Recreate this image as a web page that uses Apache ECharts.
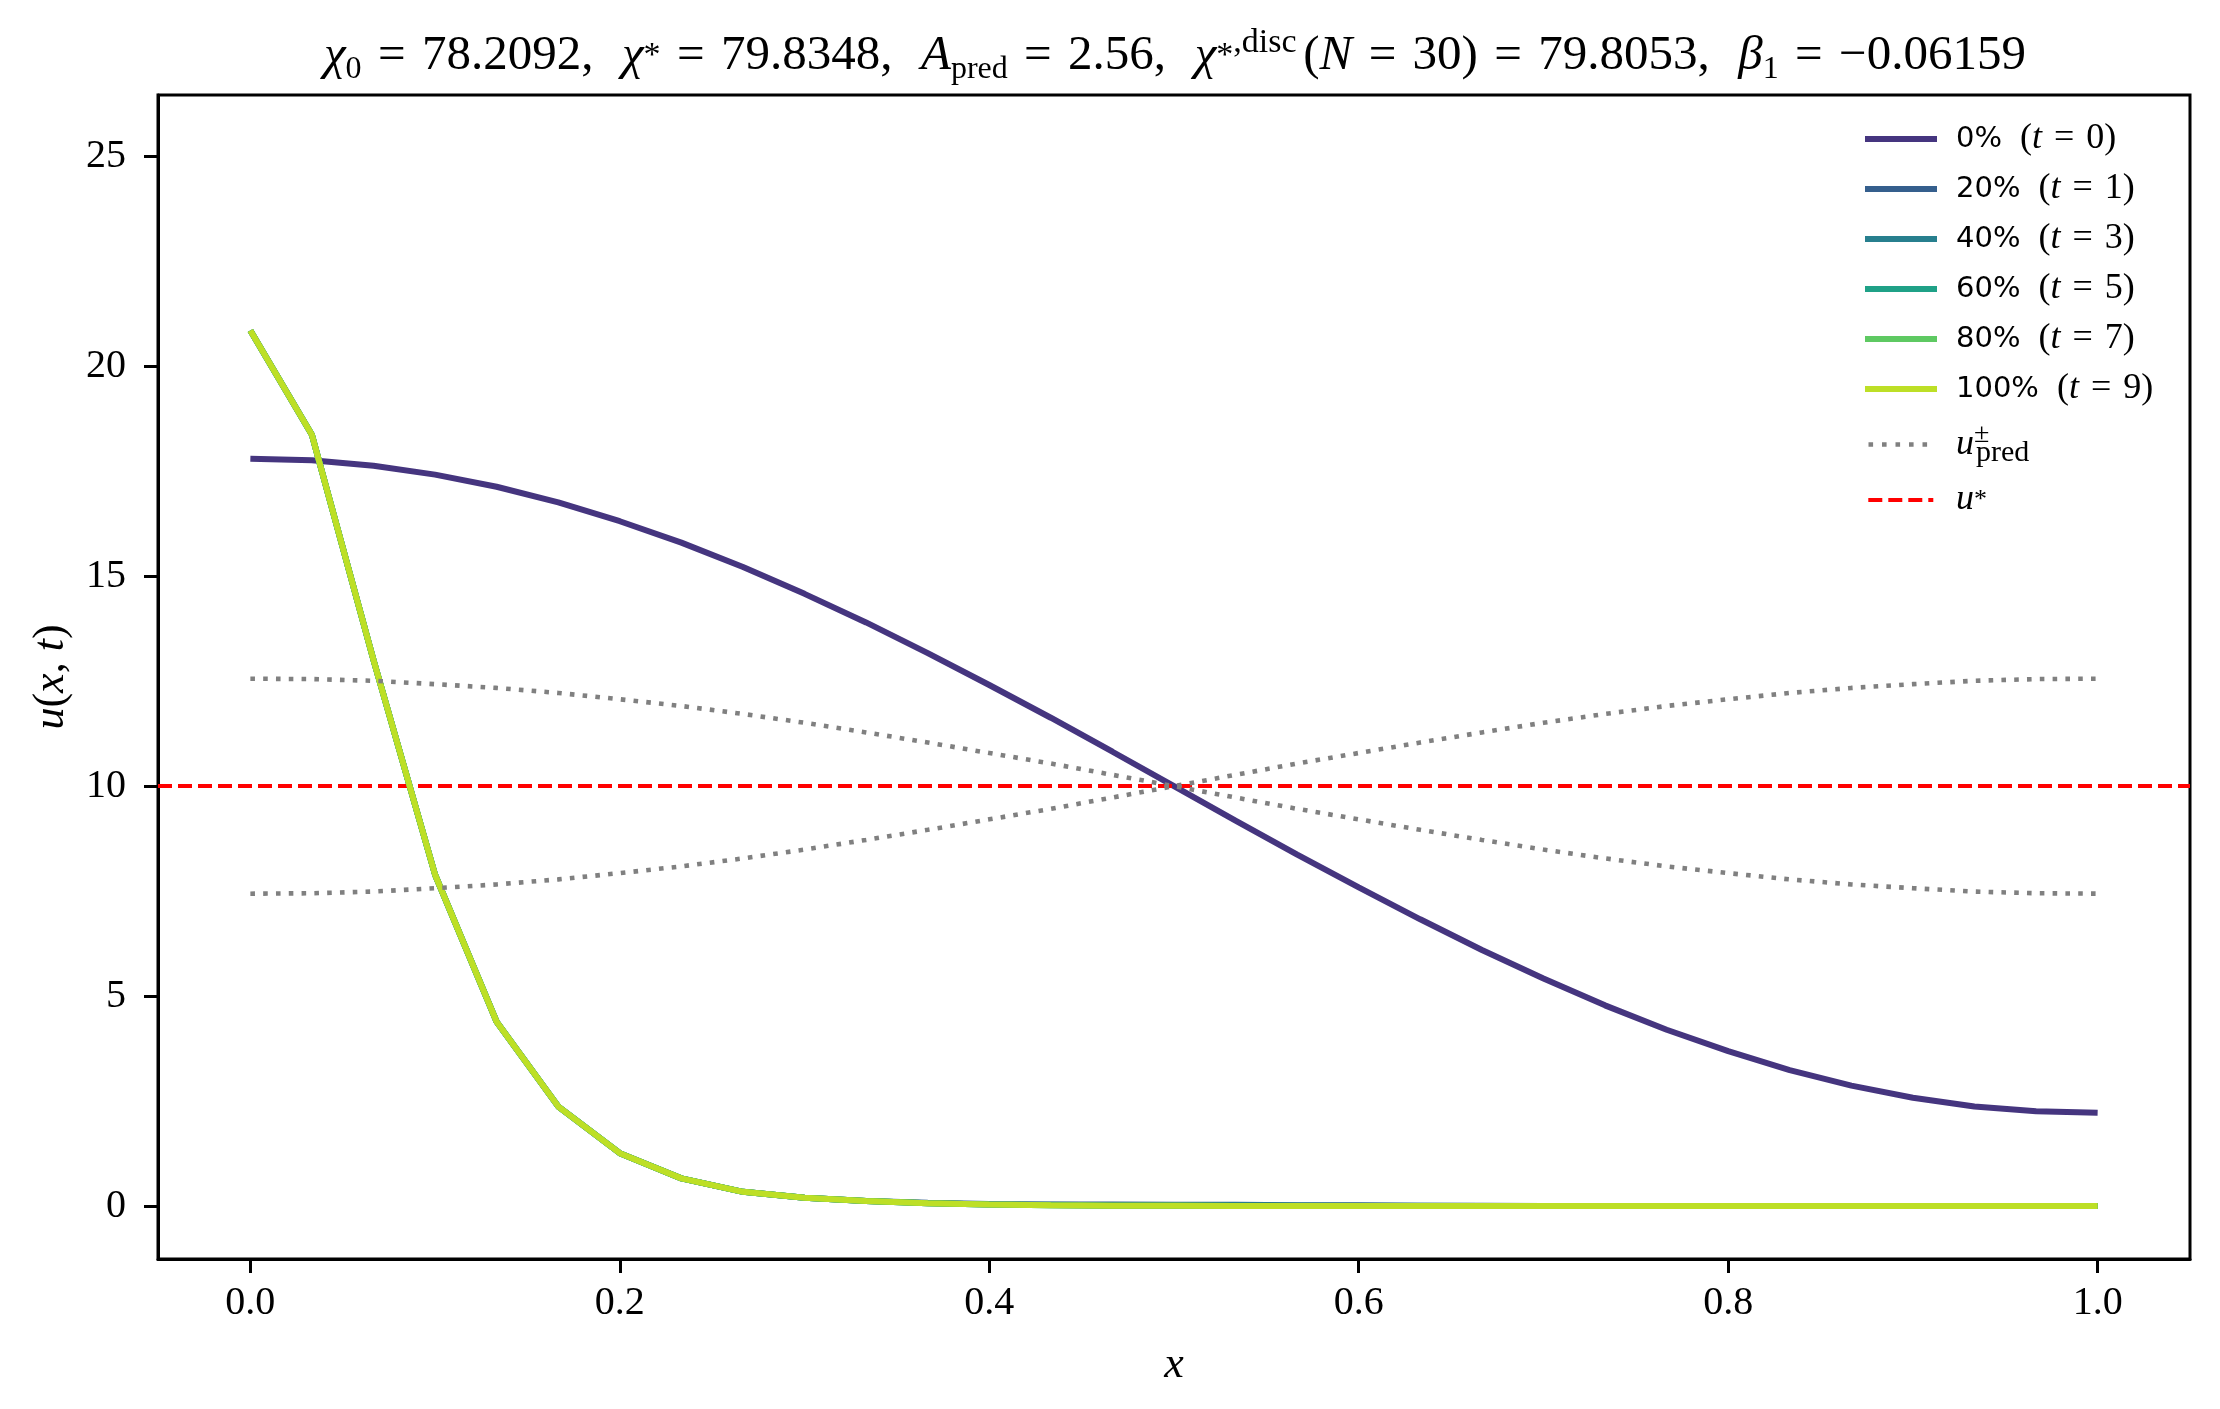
<!DOCTYPE html>
<html>
<head>
<meta charset="utf-8">
<script src="https://cdn.jsdelivr.net/npm/echarts@6/dist/echarts.min.js"></script>
<style>
  html, body { margin: 0; padding: 0; background: #fff; }
  #chart { width: 2220px; height: 1409px; }
</style>
</head>
<body>
<div id="chart"></div>
<script>
// grid x = k/30, N = 30
var xs = [0, 0.0333, 0.0667, 0.1, 0.1333, 0.1667, 0.2, 0.2333, 0.2667, 0.3, 0.3333,
          0.3667, 0.4, 0.4333, 0.4667, 0.5, 0.5333, 0.5667, 0.6, 0.6333, 0.6667,
          0.7, 0.7333, 0.7667, 0.8, 0.8333, 0.8667, 0.9, 0.9333, 0.9667, 1.0];

var u_t0 = [17.80, 17.76, 17.63, 17.42, 17.13, 16.76, 16.31, 15.80, 15.22, 14.58, 13.90,
            13.17, 12.41, 11.63, 10.82, 10.00, 9.18, 8.37, 7.59, 6.83, 6.10,
            5.42, 4.78, 4.20, 3.69, 3.24, 2.87, 2.58, 2.37, 2.26, 2.22];
var u_t1 = [20.85, 18.37, 13.00, 7.89, 4.39, 2.37, 1.26, 0.66, 0.34, 0.20, 0.12,
            0.08, 0.05, 0.04, 0.04, 0.03, 0.03, 0.02, 0.02, 0.01, 0.01,
            0, 0, 0, 0, 0, 0, 0, 0, 0, 0];
var u_t3 = [20.85, 18.37, 13.00, 7.89, 4.39, 2.37, 1.26, 0.66, 0.34, 0.20, 0.12,
            0.07, 0.04, 0.03, 0.02, 0.02, 0.02, 0.01, 0.01, 0.01, 0,
            0, 0, 0, 0, 0, 0, 0, 0, 0, 0];
var u_t5 = [20.85, 18.37, 13.00, 7.89, 4.39, 2.37, 1.26, 0.66, 0.34, 0.20, 0.12,
            0.07, 0.04, 0.02, 0.01, 0.01, 0.01, 0.01, 0, 0, 0,
            0, 0, 0, 0, 0, 0, 0, 0, 0, 0];
var u_t7 = [20.85, 18.37, 13.00, 7.89, 4.39, 2.37, 1.26, 0.66, 0.34, 0.20, 0.12,
            0.07, 0.04, 0.02, 0.01, 0.01, 0, 0, 0, 0, 0,
            0, 0, 0, 0, 0, 0, 0, 0, 0, 0];
var u_t9 = [20.85, 18.37, 13.00, 7.89, 4.39, 2.37, 1.26, 0.66, 0.34, 0.20, 0.12,
            0.07, 0.04, 0.02, 0.01, 0.01, 0, 0, 0, 0, 0,
            0, 0, 0, 0, 0, 0, 0, 0, 0, 0];

var uPredPlus = [12.56, 12.55, 12.51, 12.43, 12.34, 12.22, 12.07, 11.91, 11.72, 11.51, 11.28,
                 11.04, 10.79, 10.54, 10.27, 10.00, 9.73, 9.46, 9.21, 8.96, 8.72,
                 8.49, 8.28, 8.09, 7.93, 7.78, 7.66, 7.57, 7.49, 7.45, 7.44];
var uPredMinus = [7.44, 7.45, 7.49, 7.57, 7.66, 7.78, 7.93, 8.09, 8.28, 8.49, 8.72,
                  8.96, 9.21, 9.46, 9.73, 10.00, 10.27, 10.54, 10.79, 11.04, 11.28,
                  11.51, 11.72, 11.91, 12.07, 12.22, 12.34, 12.43, 12.51, 12.55, 12.56];
var uStar = 10;

var curveNames = ['0% (t = 0)', '20% (t = 1)', '40% (t = 3)', '60% (t = 5)', '80% (t = 7)', '100% (t = 9)'];
var curveData = [u_t0, u_t1, u_t3, u_t5, u_t7, u_t9];
var curveColors = ['#45357f', '#355f8d', '#277f8e', '#1fa187', '#5ec962', '#bddf26'];

var xTicks = [0, 0.2, 0.4, 0.6, 0.8, 1.0];
var yTicks = [0, 5, 10, 15, 20, 25];

var SERIF = '"Liberation Serif", "DejaVu Serif", serif';
var SANS = '"DejaVu Sans", sans-serif';

function pairs(ys) {
    return xs.map(function (x, i) { return [x, ys[i]]; });
}

var series = [];
curveNames.forEach(function (name, k) {
    series.push({
        name: name,
        type: 'line',
        data: pairs(curveData[k]),
        symbol: 'none',
        lineStyle: { color: curveColors[k], width: 6 },
        itemStyle: { color: curveColors[k] },
        z: 2 + k
    });
});
[uPredPlus, uPredMinus].forEach(function (ys) {
    series.push({
        name: 'u_pred',
        type: 'line',
        data: pairs(ys),
        symbol: 'none',
        lineStyle: { color: '#808080', width: 4.6, type: [4.6, 8.2], cap: 'butt' },
        itemStyle: { color: '#808080' },
        z: 10
    });
});
series.push({
    name: 'u*',
    type: 'line',
    data: [],
    symbol: 'none',
    lineStyle: { color: '#ff0000', width: 4, type: [14, 6] },
    itemStyle: { color: '#ff0000' },
    markLine: {
        silent: true,
        symbol: 'none',
        label: { show: false },
        lineStyle: { color: '#ff0000', width: 4, type: [14, 6] },
        data: [{ yAxis: uStar }]
    },
    z: 11
});

// legend handles, drawn in a 72 x 6 box (tiny corner specks fix the box size)
var box = 'M0,0h0.01v0.01h-0.01z M71.99,5.99h0.01v0.01h-0.01z ';
var dotIcon = 'path://' + box + [3.5, 17, 30.5, 44, 57.5].map(function (x) {
    return 'M' + x + ',0.7h4.6v4.6h-4.6z';
}).join(' ');
var dashIcon = 'path://' + box + [[3.3, 14], [23.3, 14], [43.3, 14], [63.3, 5]].map(function (d) {
    return 'M' + d[0] + ',1h' + d[1] + 'v4h-' + d[1] + 'z';
}).join(' ');

var legendItems = curveNames.map(function (n) { return { name: n, icon: 'rect' }; })
    .concat([{ name: 'u_pred', icon: dotIcon }, { name: 'u*', icon: dashIcon }]);

var legendRich = {
    s: { fontFamily: SANS, fontSize: 29, lineHeight: 36, color: '#000' },
    n: { fontFamily: SERIF, fontSize: 36, lineHeight: 36, color: '#000' },
    i: { fontFamily: SERIF, fontSize: 36, lineHeight: 36, fontStyle: 'italic', color: '#000' },
    ui: { fontFamily: SERIF, fontSize: 36, lineHeight: 47, fontStyle: 'italic', color: '#000' },
    pm: { fontFamily: SERIF, fontSize: 28, lineHeight: 28, verticalAlign: 'top', width: 2, color: '#000' },
    pr: { fontFamily: SERIF, fontSize: 30, lineHeight: 28, verticalAlign: 'bottom', color: '#000' },
    st: { fontFamily: SERIF, fontSize: 26, lineHeight: 36, color: '#000' }
};

function legendLabel(name) {
    if (name === 'u_pred') return '{ui|u}{pm|±}{pr|pred}';
    if (name === 'u*') return '{i|u}{st|*}';
    var m = name.match(/^(\d+%) \(t = (\d+)\)$/);
    return '{s|' + m[1] + '}{n|\u2002(}{i|t}{n|\u2004=\u2004' + m[2] + ')}';
}

var titleRich = {
    n: { fontFamily: SERIF, fontSize: 49, fontWeight: 'normal', lineHeight: 60, color: '#000' },
    i: { fontFamily: SERIF, fontSize: 49, fontWeight: 'normal', lineHeight: 60, fontStyle: 'italic', color: '#000' },
    sb: { fontFamily: SERIF, fontSize: 32, fontWeight: 'normal', lineHeight: 39, verticalAlign: 'bottom', color: '#000' },
    sp: { fontFamily: SERIF, fontSize: 34, fontWeight: 'normal', lineHeight: 39, verticalAlign: 'top', color: '#000' },
    ast: { fontFamily: SERIF, fontSize: 34, fontWeight: 'normal', lineHeight: 60, color: '#000' }
};
var EQ = '\u2004=\u2004';
var SEP = ',\u2002\u200A';
var titleText =
    '{i|χ}{sb|0}{n|' + EQ + '78.2092' + SEP + '}' +
    '{i|χ}{ast|*}{n|' + EQ + '79.8348' + SEP + '}' +
    '{i|A}{sb|pred}{n|' + EQ + '2.56' + SEP + '}' +
    '{i|χ}{ast|*}{sp|,disc\u2009}{n|(}{i|N}{n|' + EQ + '30)' + EQ + '79.8053' + SEP + '}' +
    '{i|β}{sb|1}{n|' + EQ + '−0.06159}';

var option = {
    animation: false,
    backgroundColor: '#fff',
    title: {
        text: titleText,
        left: 1175,
        top: 26,
        padding: 0,
        textAlign: 'center',
        textStyle: { fontWeight: 'normal', rich: titleRich }
    },
    legend: {
        orient: 'vertical',
        left: 1865,
        top: 121,
        padding: 0,
        itemWidth: 72,
        itemHeight: 6,
        itemGap: 14,
        symbolKeepAspect: false,
        itemStyle: { borderWidth: 0 },
        data: legendItems,
        formatter: legendLabel,
        textStyle: { padding: [0, 0, 0, 14], rich: legendRich }
    },
    grid: {
        left: 158, right: 30, top: 95, bottom: 150,
        show: true, borderColor: '#000', borderWidth: 3, backgroundColor: 'transparent'
    },
    xAxis: {
        type: 'value',
        min: -0.05,
        max: 1.05,
        name: 'x',
        nameLocation: 'middle',
        nameGap: 84,
        nameTextStyle: { fontFamily: SERIF, fontSize: 44, fontStyle: 'italic', color: '#000' },
        axisLine: { show: true, onZero: false, lineStyle: { color: '#000', width: 3 } },
        axisTick: { show: true, length: 14, lineStyle: { color: '#000', width: 3 }, customValues: xTicks },
        axisLabel: {
            customValues: xTicks,
            formatter: function (v) { return v.toFixed(1); },
            margin: 24,
            fontFamily: SERIF, fontSize: 40, color: '#000'
        },
        splitLine: { show: false }
    },
    yAxis: {
        type: 'value',
        min: -1.26,
        max: 26.46,
        name: '{i|u}{n|(}{i|x}{n|, }{i|t}{n|)}',
        nameLocation: 'middle',
        nameGap: 85,
        nameRotate: 90,
        nameTextStyle: {
            rich: {
                n: { fontFamily: SERIF, fontSize: 44, color: '#000' },
                i: { fontFamily: SERIF, fontSize: 44, fontStyle: 'italic', color: '#000' }
            }
        },
        axisLine: { show: true, onZero: false, lineStyle: { color: '#000', width: 3 } },
        axisTick: { show: true, length: 14, lineStyle: { color: '#000', width: 3 }, customValues: yTicks },
        axisLabel: {
            customValues: yTicks,
            margin: 32,
            fontFamily: SERIF, fontSize: 40, color: '#000'
        },
        splitLine: { show: false }
    },
    series: series
};

var chart = echarts.init(document.getElementById('chart'));
chart.setOption(option);
</script>
</body>
</html>
